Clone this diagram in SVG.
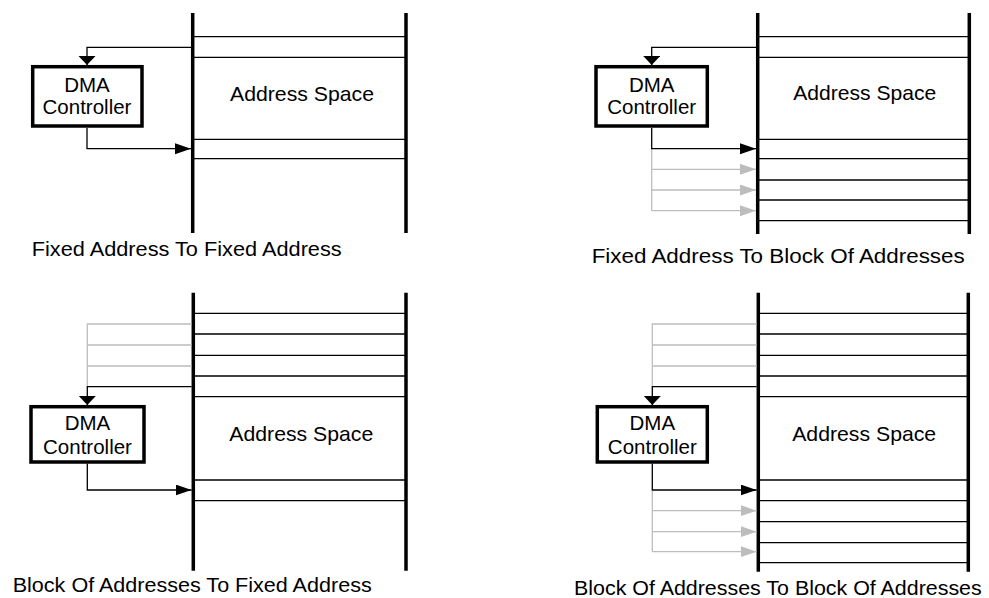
<svg xmlns="http://www.w3.org/2000/svg" width="989" height="598" viewBox="0 0 989 598">
<style>
  text { font-family: "Liberation Sans", Arial, sans-serif; fill: #000; }
  .lbl { font-size: 21px; text-anchor: middle; }
  .dma { font-size: 20.5px; text-anchor: middle; }
  .cap { font-size: 20px; }
  .bar { stroke: #000; stroke-width: 3.5; fill: none; }
  .row { stroke: #000; stroke-width: 1.3; fill: none; }
  .box { stroke: #000; stroke-width: 3.5; fill: #fff; }
  .k { stroke: #000; stroke-width: 1.3; fill: none; }
  .g { stroke: #bdbdbd; stroke-width: 1.3; fill: none; }
  .kr { marker-end: url(#ak); }
  .gr { marker-end: url(#ag); }
  .kd { marker-end: url(#akd); }
</style>
<defs>
  <marker id="ak" markerUnits="userSpaceOnUse" markerWidth="17" markerHeight="12" refX="16" refY="5.5" orient="auto">
    <path d="M0,0 L16,5.5 L0,11 z" fill="#000"/>
  </marker>
  <marker id="ag" markerUnits="userSpaceOnUse" markerWidth="17" markerHeight="12" refX="16" refY="5.5" orient="auto">
    <path d="M0,0 L16,5.5 L0,11 z" fill="#bdbdbd"/>
  </marker>
  <marker id="akd" markerUnits="userSpaceOnUse" markerWidth="10" markerHeight="18" refX="9" refY="8.5" orient="auto">
    <path d="M0,0 L9,8.5 L0,17 z" fill="#000"/>
  </marker>
</defs>

<!-- Panel 1 -->
<g id="p1-space">
  <line class="bar" x1="192.7" y1="13" x2="192.7" y2="233"/>
  <line class="bar" x1="406" y1="13" x2="406" y2="233"/>
  <line class="row" x1="192.7" y1="36.7" x2="406" y2="36.7"/>
  <line class="row" x1="192.7" y1="57.3" x2="406" y2="57.3"/>
  <line class="row" x1="192.7" y1="139.3" x2="406" y2="139.3"/>
  <line class="row" x1="192.7" y1="158.7" x2="406" y2="158.7"/>
  <text class="lbl" x="302" y="100.7" textLength="144" lengthAdjust="spacingAndGlyphs">Address Space</text>
</g>
<g id="p1-dma">
  <rect class="box" x="32.7" y="66.7" width="109.3" height="59.3"/>
  <text class="dma" x="87" y="92.3">DMA</text>
  <text class="dma" x="87" y="114.3">Controller</text>
</g>

<!-- Panel 2 -->
<g id="p2-space">
  <line class="bar" x1="757.7" y1="13" x2="757.7" y2="234"/>
  <line class="bar" x1="969.3" y1="13" x2="969.3" y2="234"/>
  <line class="row" x1="757.7" y1="36.7" x2="969.3" y2="36.7"/>
  <line class="row" x1="757.7" y1="57.3" x2="969.3" y2="57.3"/>
  <line class="row" x1="757.7" y1="139.3" x2="969.3" y2="139.3"/>
  <line class="row" x1="757.7" y1="158.7" x2="969.3" y2="158.7"/>
  <line class="row" x1="757.7" y1="180" x2="969.3" y2="180"/>
  <line class="row" x1="757.7" y1="200" x2="969.3" y2="200"/>
  <line class="row" x1="757.7" y1="220.7" x2="969.3" y2="220.7"/>
  <text class="lbl" x="864.7" y="100.3" textLength="143" lengthAdjust="spacingAndGlyphs">Address Space</text>
</g>
<g id="p2-dma">
  <rect class="box" x="596" y="66.7" width="111.3" height="59.3"/>
  <text class="dma" x="651.7" y="92.3">DMA</text>
  <text class="dma" x="651.7" y="114.3">Controller</text>
</g>

<!-- Panel 3 -->
<g id="p3-space">
  <line class="bar" x1="193.3" y1="292.7" x2="193.3" y2="570.7"/>
  <line class="bar" x1="406" y1="292.7" x2="406" y2="570.7"/>
  <line class="row" x1="193.3" y1="313.3" x2="406" y2="313.3"/>
  <line class="row" x1="193.3" y1="334" x2="406" y2="334"/>
  <line class="row" x1="193.3" y1="355.3" x2="406" y2="355.3"/>
  <line class="row" x1="193.3" y1="376" x2="406" y2="376"/>
  <line class="row" x1="193.3" y1="396.7" x2="406" y2="396.7"/>
  <line class="row" x1="193.3" y1="480" x2="406" y2="480"/>
  <line class="row" x1="193.3" y1="500.7" x2="406" y2="500.7"/>
  <text class="lbl" x="301.3" y="441" textLength="144" lengthAdjust="spacingAndGlyphs">Address Space</text>
</g>
<g id="p3-dma">
  <rect class="box" x="31" y="406.7" width="113" height="55.3"/>
  <text class="dma" x="87.5" y="430.3">DMA</text>
  <text class="dma" x="87.5" y="453.5">Controller</text>
</g>

<!-- Panel 4 -->
<g id="p4-space">
  <line class="bar" x1="758.3" y1="292.7" x2="758.3" y2="571.7"/>
  <line class="bar" x1="968.3" y1="292.7" x2="968.3" y2="571.7"/>
  <line class="row" x1="758.3" y1="313.3" x2="968.3" y2="313.3"/>
  <line class="row" x1="758.3" y1="334" x2="968.3" y2="334"/>
  <line class="row" x1="758.3" y1="355.3" x2="968.3" y2="355.3"/>
  <line class="row" x1="758.3" y1="376" x2="968.3" y2="376"/>
  <line class="row" x1="758.3" y1="396.7" x2="968.3" y2="396.7"/>
  <line class="row" x1="758.3" y1="480" x2="968.3" y2="480"/>
  <line class="row" x1="758.3" y1="500.7" x2="968.3" y2="500.7"/>
  <line class="row" x1="758.3" y1="521.7" x2="968.3" y2="521.7"/>
  <line class="row" x1="758.3" y1="542.7" x2="968.3" y2="542.7"/>
  <line class="row" x1="758.3" y1="562.7" x2="968.3" y2="562.7"/>
  <text class="lbl" x="864.2" y="441" textLength="144" lengthAdjust="spacingAndGlyphs">Address Space</text>
</g>
<g id="p4-dma">
  <rect class="box" x="597.3" y="406.7" width="110" height="55.3"/>
  <text class="dma" x="652.3" y="430.3">DMA</text>
  <text class="dma" x="652.3" y="453.5">Controller</text>
</g>

<!-- Connectors -->
<g id="connectors">
  <!-- panel 1 -->
  <polyline class="k kd" points="191,47.3 87,47.3 87,65"/>
  <polyline class="k kr" points="87,128 87,148.7 191,148.7"/>
  <!-- panel 2 -->
  <polyline class="g" points="651.7,148.7 651.7,210.7"/>
  <polyline class="g gr" points="651.7,169.3 756,169.3"/>
  <polyline class="g gr" points="651.7,190 756,190"/>
  <polyline class="g gr" points="651.7,210.7 756,210.7"/>
  <polyline class="k kd" points="756,47.3 651.7,47.3 651.7,65"/>
  <polyline class="k kr" points="651.7,128 651.7,148.7 756,148.7"/>
  <!-- panel 3 -->
  <polyline class="g" points="191.6,324 87.3,324 87.3,386.7"/>
  <polyline class="g" points="191.6,345 87.3,345"/>
  <polyline class="g" points="191.6,366 87.3,366"/>
  <polyline class="k kd" points="191.6,386.7 87.3,386.7 87.3,405"/>
  <polyline class="k kr" points="87.3,463.5 87.3,490 191.6,490"/>
  <!-- panel 4 -->
  <polyline class="g" points="756.6,324 652.3,324 652.3,386.7"/>
  <polyline class="g" points="756.6,345 652.3,345"/>
  <polyline class="g" points="756.6,366 652.3,366"/>
  <polyline class="g" points="652.3,490 652.3,551.7"/>
  <polyline class="g gr" points="652.3,510.7 756.6,510.7"/>
  <polyline class="g gr" points="652.3,531.7 756.6,531.7"/>
  <polyline class="g gr" points="652.3,551.7 756.6,551.7"/>
  <polyline class="k kd" points="756.6,386.7 652.3,386.7 652.3,405"/>
  <polyline class="k kr" points="652.3,463.5 652.3,490 756.6,490"/>
</g>

<!-- Captions -->
<g id="captions">
  <text class="cap" x="31.7" y="255.5" textLength="310" lengthAdjust="spacingAndGlyphs">Fixed Address To Fixed Address</text>
  <text class="cap" x="591.7" y="263" textLength="373" lengthAdjust="spacingAndGlyphs">Fixed Address To Block Of Addresses</text>
  <text class="cap" x="12.7" y="592" textLength="359" lengthAdjust="spacingAndGlyphs">Block Of Addresses To Fixed Address</text>
  <text class="cap" x="574" y="595" textLength="407.7" lengthAdjust="spacingAndGlyphs">Block Of Addresses To Block Of Addresses</text>
</g>
</svg>
